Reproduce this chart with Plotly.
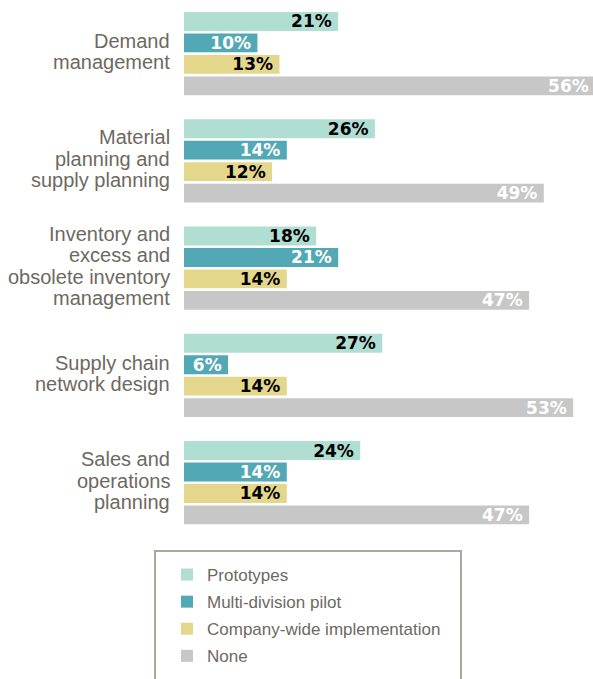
import plotly.graph_objects as go

# Survey categories, each label split into its display lines
categories = [
    ["Demand", "management"],
    ["Material", "planning and", "supply planning"],
    ["Inventory and", "excess and", "obsolete inventory", "management"],
    ["Supply chain", "network design"],
    ["Sales and", "operations", "planning"],
]

series_names = ["Prototypes", "Multi-division pilot", "Company-wide implementation", "None"]
prototypes = [21, 26, 18, 27, 24]
multi_division = [10, 14, 21, 6, 14]
company_wide = [13, 12, 14, 14, 14]
none = [56, 49, 47, 53, 47]

series_values = [prototypes, multi_division, company_wide, none]
bar_colors = ["#b1ded3", "#53a8b5", "#e4d78c", "#c7c7c7"]
text_colors = ["#000000", "#ffffff", "#000000", "#ffffff"]

SLOTS = 5  # four bars plus one empty slot per category
W, H = 593, 679
ML, MB = 184, 139
plot_w, plot_h = W - ML, H - MB

fig = go.Figure()
for k, (name, vals) in enumerate(zip(series_names, series_values)):
    fig.add_trace(go.Bar(
        orientation="h",
        name=name,
        legendgroup=name,
        x=vals,
        y=[g * SLOTS + k for g in range(len(vals))],
        width=0.88,
        marker=dict(color=bar_colors[k], line=dict(width=0)),
        text=[f"{v}%\u2009" for v in vals],
        textposition="inside",
        insidetextanchor="end",
        constraintext="none",
        textfont=dict(family="DejaVu Sans", size=17, weight="bold", color=text_colors[k]),
        hoverinfo="skip",
    ))

# Category labels, one annotation per line
label_color = "#6e695f"
for g, lines in enumerate(categories):
    n = len(lines)
    for i, line in enumerate(lines):
        fig.add_annotation(
            x=0, y=g * SLOTS + 1.5 + (i - (n - 1) / 2),
            xref="x", yref="y",
            text=line, showarrow=False,
            xanchor="right", yanchor="middle",
            xshift=-12, yshift=2,
            font=dict(family="Liberation Sans", size=20, color=label_color),
        )

# Legend frame
fig.add_shape(
    type="rect", xref="paper", yref="paper",
    x0=(155 - ML) / plot_w, x1=(461 - ML) / plot_w,
    y0=(plot_h - 551) / plot_h, y1=(plot_h - 720) / plot_h,
    line=dict(color="#aca79e", width=2), fillcolor="rgba(0,0,0,0)",
)

fig.update_layout(
    width=W, height=H,
    margin=dict(l=ML, r=0, t=0, b=MB, pad=0, autoexpand=False),
    paper_bgcolor="white", plot_bgcolor="white",
    barmode="overlay",
    xaxis=dict(range=[0, 55.7], visible=False, fixedrange=True),
    yaxis=dict(range=[24.17, -1.0], visible=False, fixedrange=True),
    showlegend=True,
    legend=dict(
        xref="container", yref="container",
        x=167 / W, y=1 - 557 / H,
        xanchor="left", yanchor="top",
        orientation="v", traceorder="grouped",
        tracegroupgap=2,
        bgcolor="rgba(0,0,0,0)", borderwidth=0,
        font=dict(family="Liberation Sans", size=17, color=label_color),
    ),
)

fig.write_html("out.html")
